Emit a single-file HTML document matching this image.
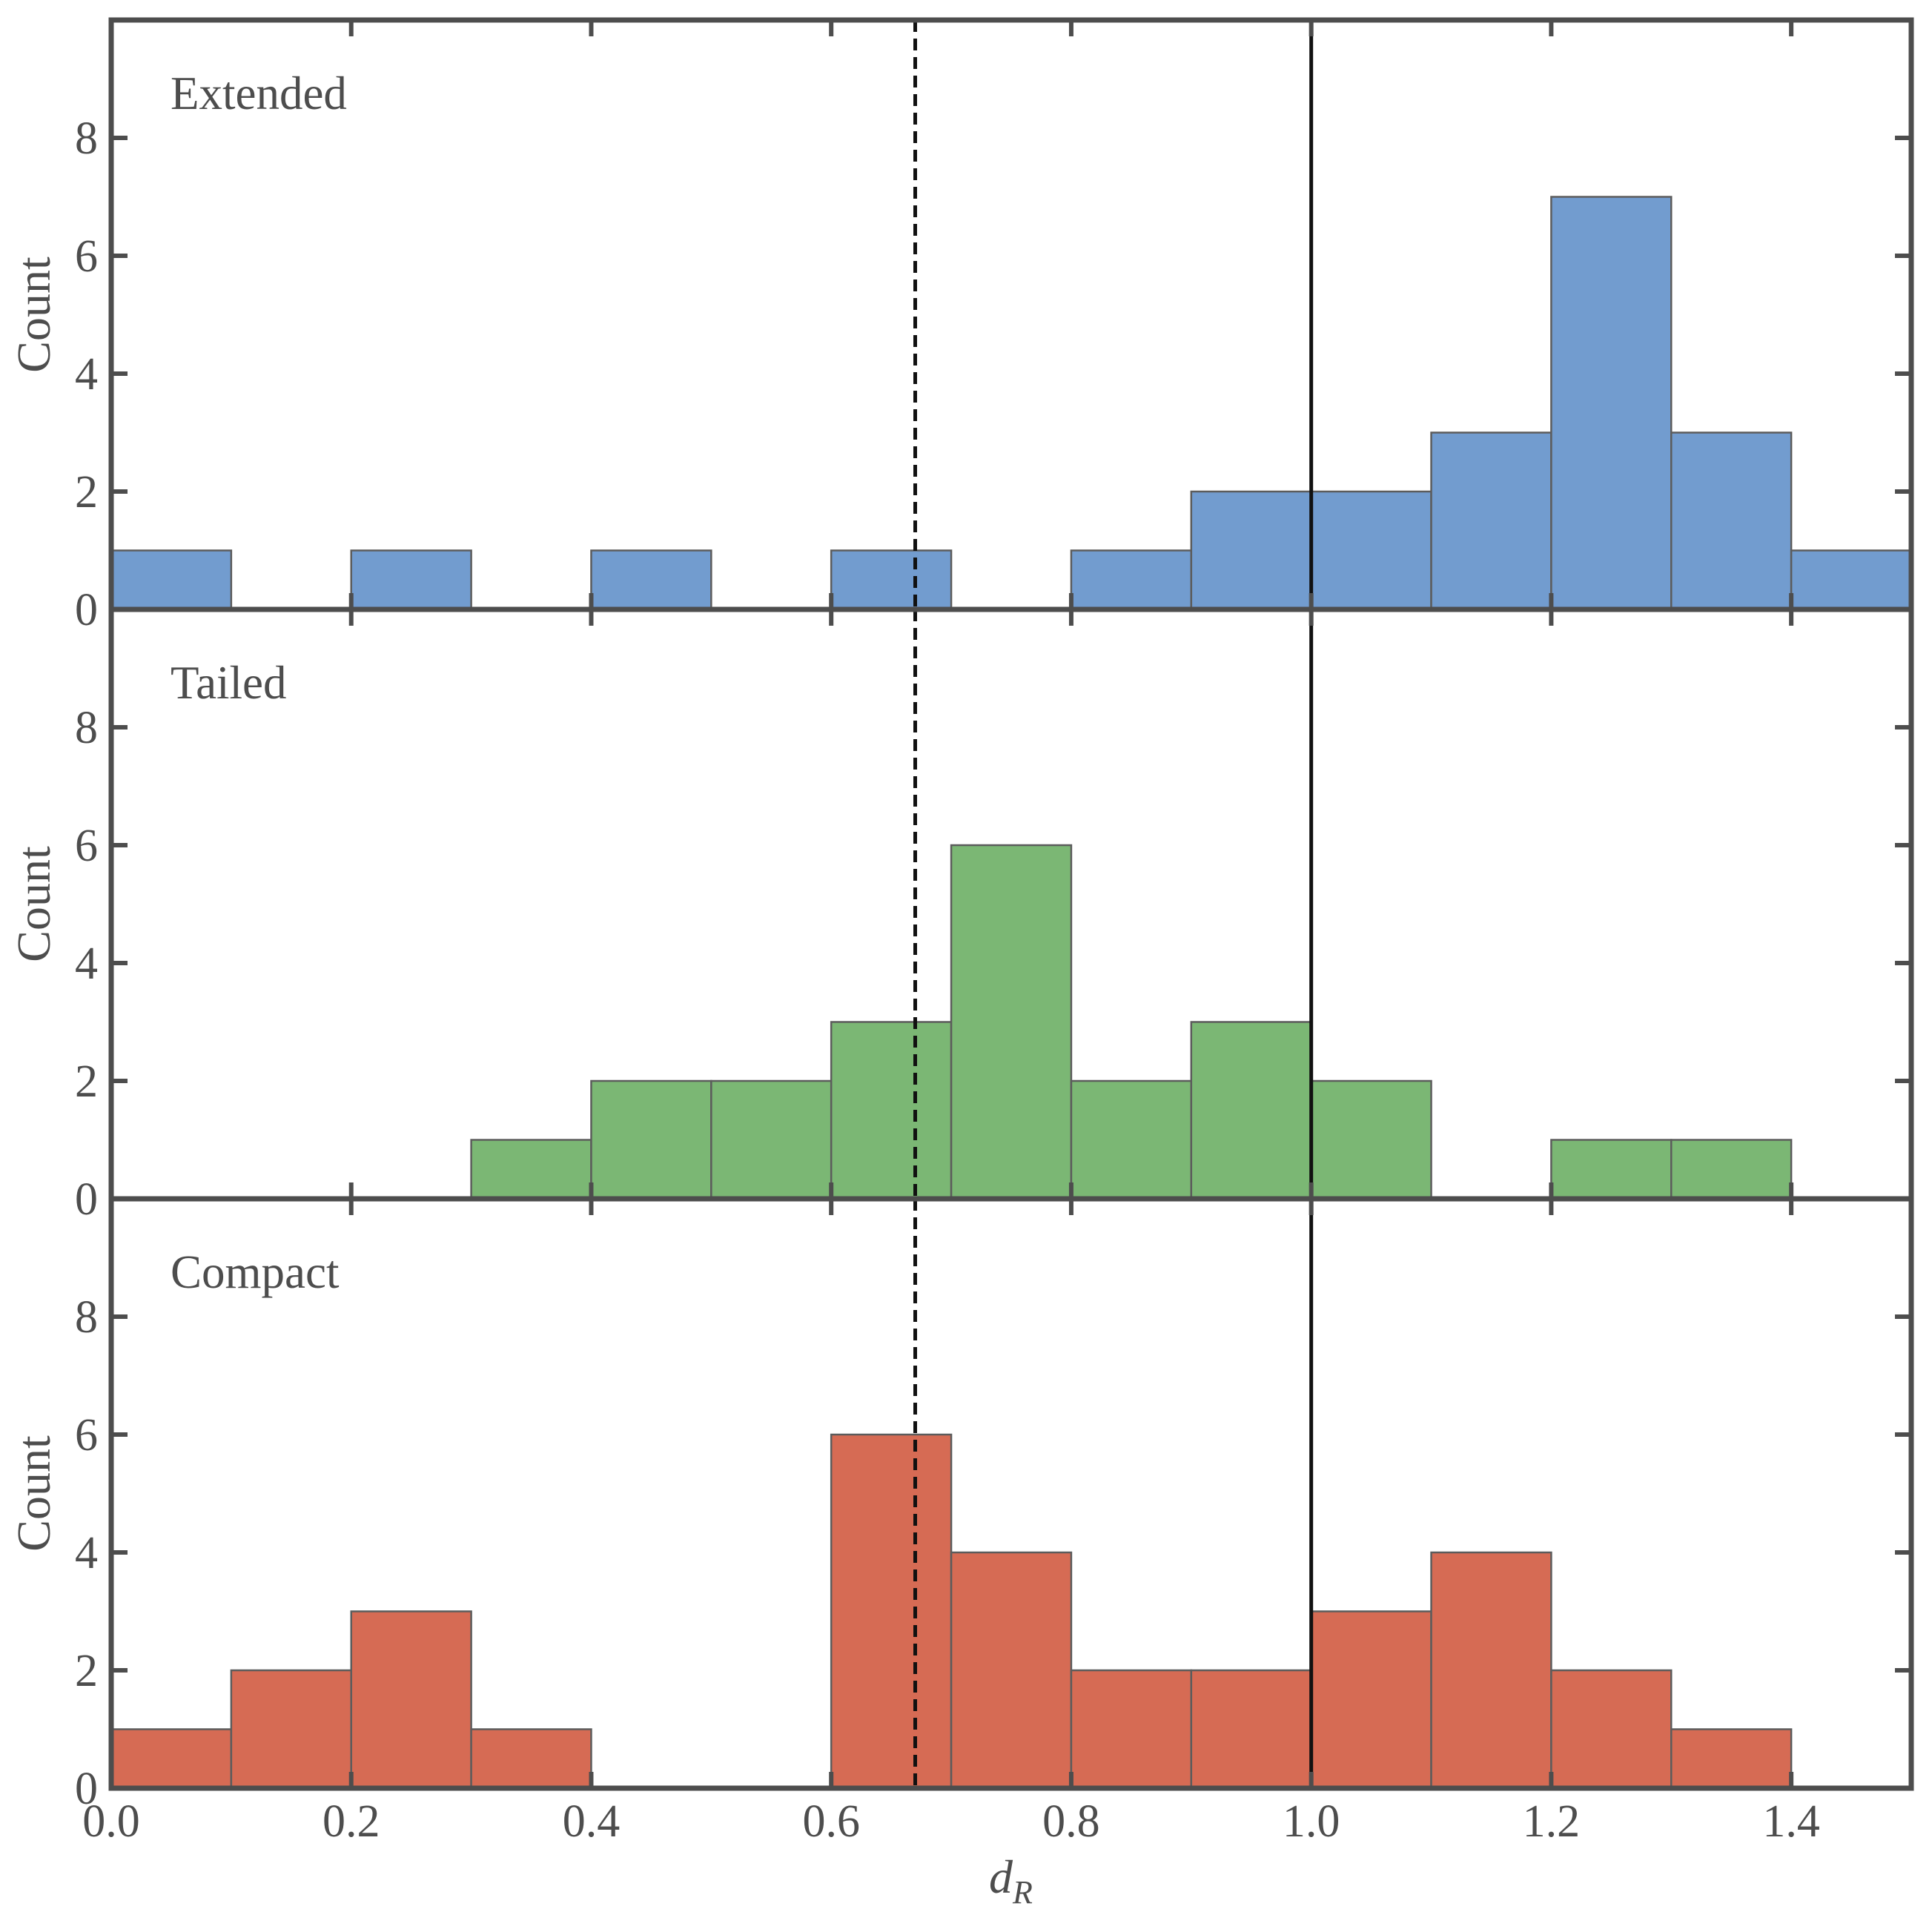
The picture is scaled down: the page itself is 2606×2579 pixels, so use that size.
<!DOCTYPE html>
<html><head><meta charset="utf-8"><style>html,body{margin:0;padding:0;background:#fff}svg{display:block}</style></head>
<body>
<svg id="chart" width="2606" height="2579" xmlns="http://www.w3.org/2000/svg" font-family="'Liberation Serif', serif"></svg>
<script>
const binEdges = [0,0.1,0.2,0.3,0.4,0.5,0.6,0.7,0.8,0.9,1.0,1.1,1.2,1.3,1.4,1.5];
const extendedCounts = [1,0,1,0,1,0,1,0,1,2,2,3,7,3,1];
const tailedCounts = [0,0,0,1,2,2,3,6,2,3,2,0,1,1,0];
const compactCounts = [1,2,3,1,0,0,6,4,2,2,3,4,2,1,0];
const panelNames = ["Extended","Tailed","Compact"];
const panelColors = ["#729ccf","#7bb774","#d66b54"];
const xTicks = [0,0.2,0.4,0.6,0.8,1.0,1.2,1.4];
const xTickLabels = ["0.0","0.2","0.4","0.6","0.8","1.0","1.2","1.4"];
const yTicks = [0,2,4,6,8];
const dashedX = 0.67;
const solidX = 1.0;

const NS="http://www.w3.org/2000/svg";
const svg=document.getElementById('chart');
const L=150,R=2578,T=27,PH=795;
const xs=v=>L+(v-0)/(1.5-0)*(R-L);
function mk(tag,attrs,parent){const e=document.createElementNS(NS,tag);for(const k in attrs)e.setAttribute(k,attrs[k]);(parent||svg).appendChild(e);return e;}
const AX="#4d4d4d";
const all=[extendedCounts,tailedCounts,compactCounts];
all.forEach((counts,p)=>{
  const top=T+p*PH, bot=top+PH;
  const ys=v=>bot-v/10*PH;
  const g=mk('g',{});
  
  
  counts.forEach((c,i)=>{
    if(c<=0)return;
    const r=mk('rect',{x:xs(binEdges[i]),y:ys(c),width:xs(binEdges[i+1])-xs(binEdges[i]),height:ys(0)-ys(c),fill:panelColors[p],stroke:'#5c5c5c','stroke-width':2.5},g);
    
    
  });
  const dl=mk('line',{x1:xs(dashedX),x2:xs(dashedX),y1:top,y2:bot,stroke:'#111','stroke-width':5,'stroke-dasharray':'16,9'},g);
  
  
  const sl=mk('line',{x1:xs(solidX),x2:xs(solidX),y1:top,y2:bot,stroke:'#111','stroke-width':5},g);
  
  
  xTicks.forEach(t=>{
    mk('line',{x1:xs(t),x2:xs(t),y1:bot,y2:bot-22,stroke:AX,'stroke-width':6},g);
    mk('line',{x1:xs(t),x2:xs(t),y1:top,y2:top+22,stroke:AX,'stroke-width':6},g);
  });
  yTicks.forEach(t=>{
    mk('line',{x1:L,x2:L+22,y1:ys(t),y2:ys(t),stroke:AX,'stroke-width':6},g);
    mk('line',{x1:R,x2:R-22,y1:ys(t),y2:ys(t),stroke:AX,'stroke-width':6},g);
    const tl=mk('text',{x:132,y:ys(t)+21,'text-anchor':'end','font-size':62,fill:AX},g);
    tl.textContent=t;
    
    
  });
  const fr=mk('rect',{x:L,y:top,width:R-L,height:PH,fill:'none',stroke:AX,'stroke-width':7},g);
  
  
  const yl=mk('text',{x:0,y:0,transform:`translate(67,${(top+bot)/2}) rotate(-90)`,'text-anchor':'middle','font-size':64,fill:AX},g);
  yl.textContent='Count';
  
  
  const pl=mk('text',{x:230,y:top+120,'font-size':63,fill:AX},g);
  pl.textContent=panelNames[p];
  
  
});
const lastBot=T+3*PH;
xTicks.forEach((t,i)=>{
  const tl=mk('text',{x:xs(t),y:lastBot+65,'text-anchor':'middle','font-size':62,fill:AX});
  tl.textContent=xTickLabels[i];
  
  
});
const xl=mk('text',{x:xs(0.75)-30,y:2553,'font-size':64,'font-style':'italic',fill:AX});
xl.innerHTML='d<tspan font-size="44" dy="14">R</tspan>';


</script>
</body></html>
